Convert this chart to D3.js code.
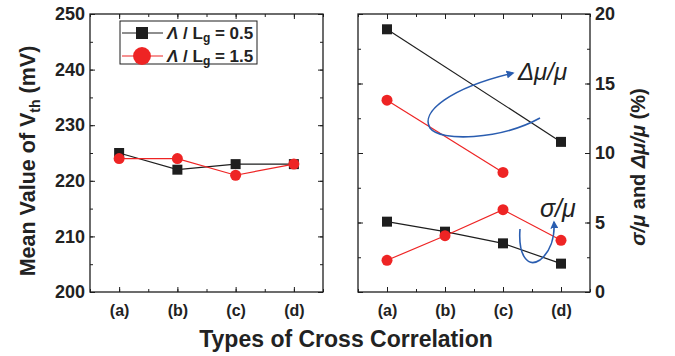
<!DOCTYPE html>
<html>
<head>
<meta charset="utf-8">
<script src="https://cdn.jsdelivr.net/npm/d3@7"></script>
<style>
  body { margin: 0; background: #fff; }
  svg text { font-family: "Liberation Sans", Arial, sans-serif; fill: #222; }
</style>
</head>
<body>
<svg id="chart" width="675" height="356"></svg>
<script>
// categories
var types = ['(a)', '(b)', '(c)', '(d)'];

// left panel: mean Vth (mV)
var vthTicks = [200, 210, 220, 230, 240, 250];
var vthLg05 = [225, 222, 223, 223];
var vthLg15 = [224, 224, 221, 223];

// right panel: sigma/mu and dmu/mu (%)
var pctTicks = [0, 5, 10, 15, 20];
var dmuLg05 = [18.9, null, null, 10.8];
var dmuLg15 = [13.8, null, 8.6, null];
var sigLg05 = [5.06, 4.34, 3.5, 2.04];
var sigLg15 = [2.28, 4.05, 5.92, 3.72];

var black = '#1e1e1e', red = '#ee2424', blue = '#2a5db0';

var svg = d3.select('#chart');

var panels = {
	left: {x0: 90, x1: 323},
	right: {x0: 358, x1: 590}
};
var plotTop = 14, plotBottom = 292;

function makeX(p){
	return d3.scaleLinear().domain([0.5, 4.5]).range([p.x0, p.x1]);
}

var xL = makeX(panels.left);
var xR = makeX(panels.right);
var yL = d3.scaleLinear().domain([200, 250]).range([plotBottom, plotTop]);
var yR = d3.scaleLinear().domain([0, 20]).range([plotBottom, plotTop]);

function minorVals(scale, step){
	var d = scale.domain(), out = [];
	for (var v = d[0]; v <= d[1] + 1e-9; v += step) out.push(+v.toFixed(4));
	return out;
}

function drawFrame(p, xs, ys, yTicks, yMinorStep, labelSide){
	var g = svg.append('g');
	// minor ticks
	var xMinor = minorVals(xs, 0.5);
	var yMinor = minorVals(ys, yMinorStep);

	g.append('g').attr('transform', 'translate(0,' + plotBottom + ')')
		.call(d3.axisBottom(xs).tickValues(xMinor).tickSize(-3).tickFormat(''));
	g.append('g').attr('transform', 'translate(0,' + plotTop + ')')
		.call(d3.axisTop(xs).tickValues(xMinor).tickSize(-3).tickFormat(''));
	g.append('g').attr('transform', 'translate(' + p.x0 + ',0)')
		.call(d3.axisLeft(ys).tickValues(yMinor).tickSize(-3).tickFormat(''));
	g.append('g').attr('transform', 'translate(' + p.x1 + ',0)')
		.call(d3.axisRight(ys).tickValues(yMinor).tickSize(-3).tickFormat(''));

	// major ticks
	g.append('g').attr('class', 'xax').attr('transform', 'translate(0,' + plotBottom + ')')
		.call(d3.axisBottom(xs).tickValues([1, 2, 3, 4]).tickSize(-5).tickPadding(13)
			.tickFormat(function(d){ return types[d - 1]; }));
	g.append('g').attr('transform', 'translate(0,' + plotTop + ')')
		.call(d3.axisTop(xs).tickValues([1, 2, 3, 4]).tickSize(-5).tickFormat(''));

	var la = d3.axisLeft(ys).tickValues(yTicks).tickSize(-5).tickPadding(5);
	var ra = d3.axisRight(ys).tickValues(yTicks).tickSize(-5).tickPadding(5);
	if (labelSide === 'left') ra.tickFormat(''); else la.tickFormat('');
	g.append('g').attr('class', 'yax').attr('transform', 'translate(' + p.x0 + ',0)').call(la);
	g.append('g').attr('class', 'yax').attr('transform', 'translate(' + p.x1 + ',0)').call(ra);

	g.selectAll('.domain').remove();
	g.selectAll('.tick line').attr('stroke', black).attr('stroke-width', 1);
	g.selectAll('.xax text').attr('font-size', 16).attr('font-weight', 'bold').attr('fill', '#222');
	g.selectAll('.yax text').attr('font-size', 18).attr('font-weight', 'bold').attr('fill', '#222');

	g.append('rect')
		.attr('x', p.x0).attr('y', plotTop)
		.attr('width', p.x1 - p.x0).attr('height', plotBottom - plotTop)
		.attr('fill', 'none').attr('stroke', black).attr('stroke-width', 1.3);
}

drawFrame(panels.left, xL, yL, vthTicks, 5, 'left');
drawFrame(panels.right, xR, yR, pctTicks, 2.5, 'right');

function symbolPath(shape, big){
	if (shape === 'square') return d3.symbol().type(d3.symbolSquare).size(big ? 144 : 100)();
	return d3.symbol().type(d3.symbolCircle).size(big ? 250 : 95)();
}

function series(xs, ys, vals, color, shape){
	var pts = vals.map(function(v, i){ return {x: i + 1, y: v}; })
		.filter(function(d){ return d.y !== null; });
	var line = d3.line().x(function(d){ return xs(d.x); }).y(function(d){ return ys(d.y); });
	svg.append('path').datum(pts).attr('d', line)
		.attr('fill', 'none').attr('stroke', color).attr('stroke-width', 1.2);
	svg.selectAll(null).data(pts).enter().append('path')
		.attr('d', symbolPath(shape, false))
		.attr('transform', function(d){ return 'translate(' + xs(d.x) + ',' + ys(d.y) + ')'; })
		.attr('fill', color);
}

series(xL, yL, vthLg05, black, 'square');
series(xL, yL, vthLg15, red, 'circle');
series(xR, yR, dmuLg05, black, 'square');
series(xR, yR, dmuLg15, red, 'circle');
series(xR, yR, sigLg05, black, 'square');
series(xR, yR, sigLg15, red, 'circle');

// legend
var leg = svg.append('g').attr('transform', 'translate(120,21)');
leg.append('rect').attr('width', 137).attr('height', 43)
	.attr('fill', '#fff').attr('stroke', black).attr('stroke-width', 1);
var legItems = [
	{color: black, shape: 'square', val: '0.5', y: 12},
	{color: red, shape: 'circle', val: '1.5', y: 35}
];
legItems.forEach(function(it){
	leg.append('line').attr('x1', 2).attr('x2', 43).attr('y1', it.y).attr('y2', it.y)
		.attr('stroke', it.color).attr('stroke-width', 1.2);
	leg.append('path')
		.attr('d', symbolPath(it.shape, true))
		.attr('transform', 'translate(22,' + it.y + ')').attr('fill', it.color);
	var t = leg.append('text').attr('x', 47).attr('y', it.y + 6)
		.attr('font-size', 17).attr('font-weight', 'bold');
	t.append('tspan').attr('font-style', 'italic').text('Λ');
	t.append('tspan').text(' / L');
	t.append('tspan').attr('font-size', 12).attr('dy', 3).text('g');
	t.append('tspan').attr('dy', -3).text(' = ' + it.val);
});

// blue arrows
var defs = svg.append('defs');
defs.append('marker').attr('id', 'arr').attr('viewBox', '0 0 10 10')
	.attr('refX', 8).attr('refY', 5).attr('markerWidth', 5).attr('markerHeight', 5)
	.attr('orient', 'auto')
	.append('path').attr('d', 'M0,0 L10,5 L0,10 z').attr('fill', blue);

svg.append('path')
	.attr('d', 'M540,118 C500,140 440,142 430,128 C420,112 450,88 513,73')
	.attr('fill', 'none').attr('stroke', blue).attr('stroke-width', 1.6)
	.attr('marker-end', 'url(#arr)');
svg.append('path')
	.attr('d', 'M520,229 C518,256 528,268 540,260 C550,252 555,238 554,222')
	.attr('fill', 'none').attr('stroke', blue).attr('stroke-width', 1.6)
	.attr('marker-end', 'url(#arr)');

svg.append('text').attr('x', 518).attr('y', 80)
	.attr('font-size', 24).attr('font-style', 'italic').text('Δμ/μ');
svg.append('text').attr('x', 540).attr('y', 217)
	.attr('font-size', 25).attr('font-style', 'italic').text('σ/μ');

// axis titles
var yt = svg.append('text')
	.attr('transform', 'translate(35,161) rotate(-90)')
	.attr('text-anchor', 'middle').attr('font-size', 21.5).attr('font-weight', 'bold');
yt.append('tspan').text('Mean Value of V');
yt.append('tspan').attr('font-size', 14).attr('dy', 5).text('th');
yt.append('tspan').attr('dy', -5).text(' (mV)');

var rt = svg.append('text')
	.attr('transform', 'translate(645,167) rotate(-90)')
	.attr('text-anchor', 'middle').attr('font-size', 20).attr('font-weight', 'bold');
rt.append('tspan').attr('font-style', 'italic').text('σ/μ');
rt.append('tspan').text(' and ');
rt.append('tspan').attr('font-style', 'italic').text('Δμ/μ');
rt.append('tspan').text(' (%)');

svg.append('text').attr('x', 346).attr('y', 347)
	.attr('text-anchor', 'middle').attr('font-size', 23).attr('font-weight', 'bold')
	.text('Types of Cross Correlation');
</script>
</body>
</html>
